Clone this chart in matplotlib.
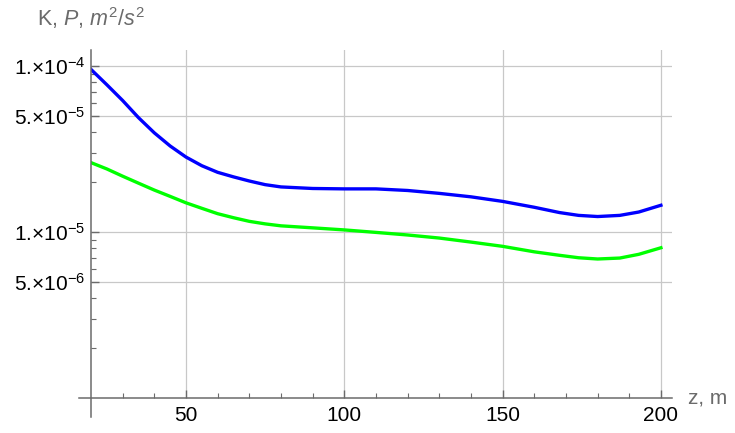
import numpy as np
import matplotlib
matplotlib.use("Agg")
import matplotlib.pyplot as plt
from matplotlib.ticker import FixedLocator, NullFormatter

plt.rcParams['font.family'] = ['Liberation Sans', 'DejaVu Sans']
plt.rcParams['mathtext.fontset'] = 'custom'
plt.rcParams['mathtext.rm'] = 'Liberation Sans'
plt.rcParams['mathtext.it'] = 'Liberation Sans:italic'

# data
z = [20, 25, 30, 35, 40, 45, 50, 55, 60, 65, 70, 75, 80, 90, 100, 110, 120, 130, 140,
     150, 160, 168, 174, 180, 187, 193, 200]
K = [9.55e-5, 7.72e-5, 6.2e-5, 4.89e-5, 3.96e-5, 3.3e-5, 2.83e-5, 2.51e-5, 2.29e-5, 2.15e-5,
     2.03e-5, 1.93e-5, 1.87e-5, 1.83e-5, 1.82e-5, 1.82e-5, 1.78e-5, 1.71e-5, 1.63e-5,
     1.53e-5, 1.41e-5, 1.31e-5, 1.26e-5, 1.24e-5, 1.26e-5, 1.32e-5, 1.45e-5]
P = [2.62e-5, 2.4e-5, 2.17e-5, 1.97e-5, 1.79e-5, 1.64e-5, 1.5e-5, 1.39e-5, 1.29e-5, 1.22e-5,
     1.16e-5, 1.12e-5, 1.09e-5, 1.06e-5, 1.03e-5, 9.95e-6, 9.6e-6, 9.2e-6, 8.7e-6,
     8.2e-6, 7.6e-6, 7.24e-6, 7.0e-6, 6.88e-6, 6.97e-6, 7.34e-6, 8.04e-6]

yticks = [1e-4, 5e-5, 1e-5, 5e-6]
ylabels = ['1.×10$^{-4}$', '5.×10$^{-5}$', '1.×10$^{-5}$', '5.×10$^{-6}$']
xticks = [50, 100, 150, 200]

axcol = '#6b6b6b'
gridcol = '#c8c8c8'

fig = plt.figure(figsize=(7.35, 4.33), dpi=100)
ax = fig.add_axes([91/735, 35/433, 581/735, 348/433])

ax.plot(z, K, color=(0, 0, 1), lw=2.4, zorder=3)
ax.plot(z, P, color=(0, 1, 0), lw=2.4, zorder=3)

ax.set_yscale('log')
ax.set_xlim(20, 203.5)
ax.set_ylim(1e-6, 1.25e-4)

for s in ax.spines.values():
    s.set_visible(False)
# Mathematica-style axes that stick out a bit past the origin
ax.plot([-12/581, 1], [0, 0], transform=ax.transAxes, color=axcol, lw=1.1, clip_on=False, zorder=4)
ax.plot([0, 0], [-19/348, 1], transform=ax.transAxes, color=axcol, lw=1.1, clip_on=False, zorder=4)

ax.xaxis.set_major_locator(FixedLocator(xticks))
ax.xaxis.set_minor_locator(FixedLocator([30, 40, 60, 70, 80, 90, 110, 120, 130, 140, 160, 170, 180, 190]))
ax.set_xticklabels([str(t) for t in xticks])
ax.yaxis.set_major_locator(FixedLocator(yticks))
ax.set_yticklabels(ylabels)
minor_y = [m * 10.0 ** e for e in (-6, -5) for m in (2, 3, 4, 6, 7, 8, 9)] + [6e-5, 7e-5, 8e-5, 9e-5]
ax.yaxis.set_minor_locator(FixedLocator(minor_y))
ax.yaxis.set_minor_formatter(NullFormatter())

ax.tick_params(axis='both', which='major', direction='in', length=6, width=1, color=axcol,
               labelsize=15, labelcolor='black', pad=6)
ax.tick_params(axis='both', which='minor', direction='in', length=3.5, width=0.8, color=axcol)
ax.tick_params(axis='y', which='major', pad=4)

ax.grid(True, which='major', color=gridcol, lw=0.9)

fig.text(37/735, 1 - 26/433, r'K, $P$, $m^2/s^2$', color=axcol, fontsize=15.5, va='baseline', ha='left')
fig.text(688/735, 1 - 398/433, 'z, m', color=axcol, fontsize=15, va='center', ha='left')

fig.savefig('out.png', dpi=100)
